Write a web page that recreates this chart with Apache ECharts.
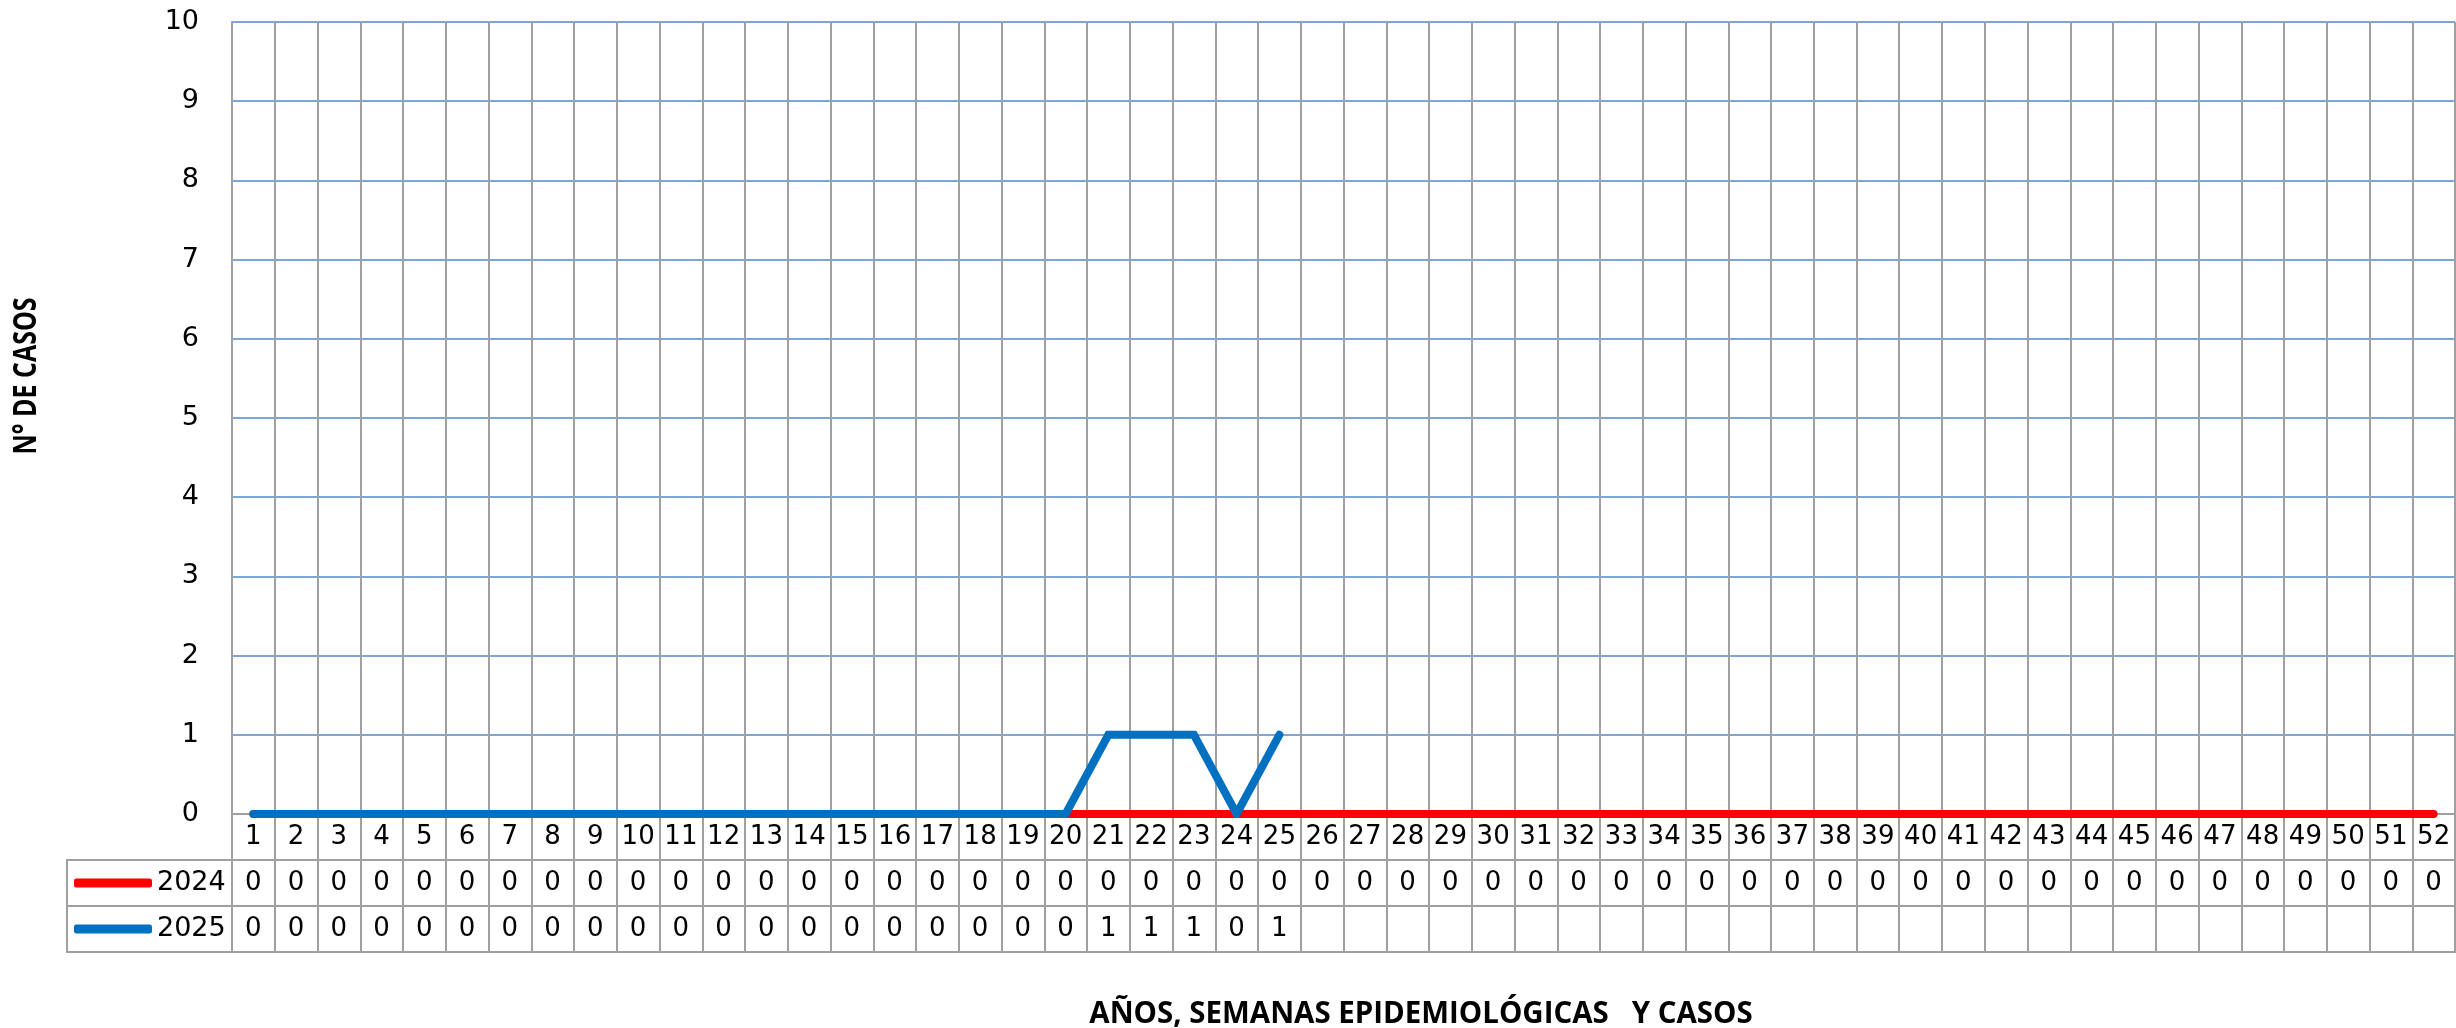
<!DOCTYPE html>
<html>
<head>
<meta charset="utf-8">
<script src="https://cdn.jsdelivr.net/npm/echarts@6/dist/echarts.min.js"></script>
<style>
html,body{margin:0;padding:0;background:#fff;}
#c{width:2456px;height:1028px;}
</style>
</head>
<body>
<div id="c"></div>
<script>
// ---- data ----
const weeks = Array.from({length: 52}, (_, i) => String(i + 1));
const cases2024 = [0,0,0,0,0,0,0,0,0,0,0,0,0,0,0,0,0,0,0,0,0,0,0,0,0,0,0,0,0,0,0,0,0,0,0,0,0,0,0,0,0,0,0,0,0,0,0,0,0,0,0,0];
const cases2025 = [0,0,0,0,0,0,0,0,0,0,0,0,0,0,0,0,0,0,0,0,1,1,1,0,1];
const seriesNames = ['2024', '2025'];
const yTicks = [0, 10, 1]; // min, max, interval
const yTitle = 'N° DE CASOS';
const xTitle = 'AÑOS, SEMANAS EPIDEMIOLÓGICAS   Y CASOS';

// ---- layout ----
const NUMFONT = '"DejaVu Sans", sans-serif';
const FONT = '"Open Sans", "Noto Sans", sans-serif';
const GRAY = '#A0A0A0';
const L = 232, W = 2223, T = 22, H = 792;
const ROW_H = 46;
const HDR_TOP = T + H;             // 814
const ROW1_TOP = HDR_TOP + ROW_H;  // 860
const ROW2_TOP = ROW1_TOP + ROW_H; // 906

const chart = echarts.init(document.getElementById('c'), null, {renderer: 'canvas'});

function rowAxis(gridIndex, vals) {
  return {
    type: 'category', gridIndex: gridIndex, data: weeks, position: 'top',
    boundaryGap: true,
    axisLine: {show: false}, axisTick: {show: false},
    splitLine: {show: true, interval: 0, lineStyle: {color: GRAY, width: 2}},
    axisLabel: {
      inside: true, interval: 0, margin: 23, verticalAlign: 'middle',
      fontSize: 26, fontFamily: NUMFONT, color: '#000',
      formatter: (v, idx) => (idx < vals.length ? String(vals[idx]) : '')
    }
  };
}

const option = {
  backgroundColor: '#fff',
  animation: false,
  grid: [
    {left: L, top: T, width: W, height: H, containLabel: false},
    {left: L, top: ROW1_TOP, width: W, height: ROW_H, show: true, borderColor: GRAY, borderWidth: 2},
    {left: L, top: ROW2_TOP, width: W, height: ROW_H, show: true, borderColor: GRAY, borderWidth: 2}
  ],
  xAxis: [
    {
      type: 'category', gridIndex: 0, data: weeks, boundaryGap: true,
      axisLine: {show: true, lineStyle: {color: GRAY, width: 2}},
      axisTick: {show: true, interval: 0, length: ROW_H, lineStyle: {color: GRAY, width: 2}},
      splitLine: {show: true, interval: 0, lineStyle: {color: GRAY, width: 2}},
      axisLabel: {interval: 0, margin: 23, verticalAlign: 'middle', fontSize: 26, fontFamily: NUMFONT, color: '#000'}
    },
    rowAxis(1, cases2024),
    rowAxis(2, cases2025)
  ],
  yAxis: [
    {
      type: 'value', gridIndex: 0, min: yTicks[0], max: yTicks[1], interval: yTicks[2],
      axisLine: {show: true, lineStyle: {color: GRAY, width: 2}},
      axisTick: {show: false},
      splitLine: {show: true, lineStyle: {color: '#7CA6DA', width: 2}},
      axisLabel: {margin: 33, fontSize: 27, fontFamily: NUMFONT, color: '#000'}
    },
    {type: 'value', gridIndex: 1, show: false},
    {type: 'value', gridIndex: 2, show: false}
  ],
  legend: {
    orient: 'vertical', left: 74, top: ROW1_TOP + 8, padding: 0,
    itemWidth: 78, itemHeight: 9, itemGap: 16, itemTextGap: 2,
    icon: 'roundRect', selectedMode: false,
    data: seriesNames,
    textStyle: {fontSize: 27, lineHeight: 30, fontFamily: NUMFONT, color: '#000'}
  },
  series: [
    {
      name: seriesNames[0], type: 'line', xAxisIndex: 0, yAxisIndex: 0,
      data: cases2024, symbol: 'none', z: 3, color: '#FF0000',
      lineStyle: {color: '#FF0000', width: 8, cap: 'round', join: 'round'}
    },
    {
      name: seriesNames[1], type: 'line', xAxisIndex: 0, yAxisIndex: 0,
      data: cases2025, symbol: 'none', z: 4, color: '#0070C0',
      lineStyle: {color: '#0070C0', width: 8, cap: 'round', join: 'miter'}
    }
  ],
  graphic: [
    {type: 'rect', shape: {x: 67, y: ROW1_TOP, width: L - 67, height: ROW_H}, style: {fill: 'none', stroke: GRAY, lineWidth: 2}, z: 1},
    {type: 'rect', shape: {x: 67, y: ROW2_TOP, width: L - 67, height: ROW_H}, style: {fill: 'none', stroke: GRAY, lineWidth: 2}, z: 1},
    {type: 'text', x: 27, y: 376, rotation: Math.PI / 2, scaleY: 1.25, style: {text: yTitle, font: 'bold 25px ' + FONT, fill: '#000', align: 'center', verticalAlign: 'middle'}},
    {type: 'text', x: 1421, y: 1014, scaleX: 0.95, style: {text: xTitle, font: 'bold 31px ' + FONT, fill: '#000', align: 'center', verticalAlign: 'middle'}}
  ]
};
chart.setOption(option);
</script>
</body>
</html>
